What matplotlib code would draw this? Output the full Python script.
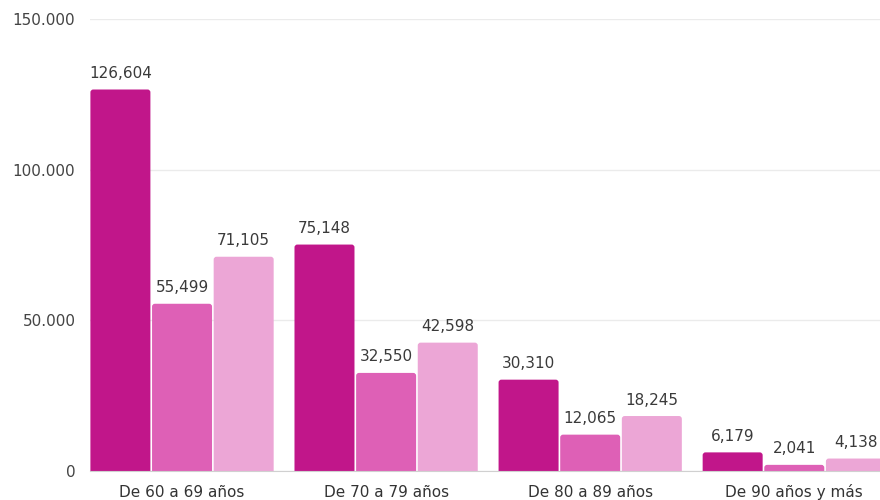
import matplotlib
matplotlib.use("Agg")
import matplotlib.pyplot as plt
from matplotlib.patches import FancyBboxPatch
import numpy as np

# Age groups and counts per series
categories = ["De 60 a 69 años", "De 70 a 79 años", "De 80 a 89 años", "De 90 años y más"]
serie_a = [126604, 75148, 30310, 6179]
serie_b = [55499, 32550, 12065, 2041]
serie_c = [71105, 42598, 18245, 4138]
yticks = [0, 50000, 100000, 150000]
ytick_labels = ["0", "50.000", "100.000", "150.000"]

colors = ["#C1168A", "#DE60B6", "#ECA6D6"]

plt.rcParams["font.family"] = ["DejaVu Sans"]

fig = plt.figure(figsize=(8.8, 5.0), dpi=100)
ax = fig.add_axes([90 / 880, 29 / 500, 790 / 880, 452 / 500])

ax.set_xlim(-0.451, 3.42)
ax.set_ylim(0, 150000)

x = np.arange(len(categories))
width = 0.294
step = 0.302

# rounding radius in x data units; aspect converts it to y units (~3 px)
radius = 0.014
aspect = (150000 / 452) / (3.871 / 790)

for i, (vals, col) in enumerate(zip([serie_a, serie_b, serie_c], colors)):
    pos = x + (i - 1) * step
    bars = ax.bar(pos, vals, width=width, color=col, zorder=3)
    for b in bars:
        b.set_visible(False)
        x0, w, h = b.get_x(), b.get_width(), b.get_height()
        patch = FancyBboxPatch((x0, -3000), w, h + 3000,
                               boxstyle=f"round,pad=0,rounding_size={radius}",
                               mutation_aspect=aspect,
                               facecolor=col, edgecolor="none", zorder=3)
        ax.add_patch(patch)
    for xp, v in zip(pos, vals):
        ax.text(xp, v + 2800, f"{v:,}", ha="center", va="bottom",
                fontsize=11, color="#3a3a3a", zorder=4)

ax.set_yticks(yticks)
ax.set_yticklabels(ytick_labels, fontsize=11, color="#444444")
ax.set_xticks(x)
ax.set_xticklabels(categories, fontsize=11, color="#333333")
for lab in ax.get_xticklabels():
    lab.set_verticalalignment("baseline")
ax.tick_params(axis="both", length=0)
ax.tick_params(axis="y", pad=10.5)
ax.tick_params(axis="x", pad=18.5)
ax.grid(axis="y", color="#ebebeb", linewidth=1, zorder=0)
for s in ["top", "right", "left"]:
    ax.spines[s].set_visible(False)
ax.spines["bottom"].set_color("#d0d0d0")
ax.spines["bottom"].set_zorder(5)

fig.savefig("out.png", dpi=100)
